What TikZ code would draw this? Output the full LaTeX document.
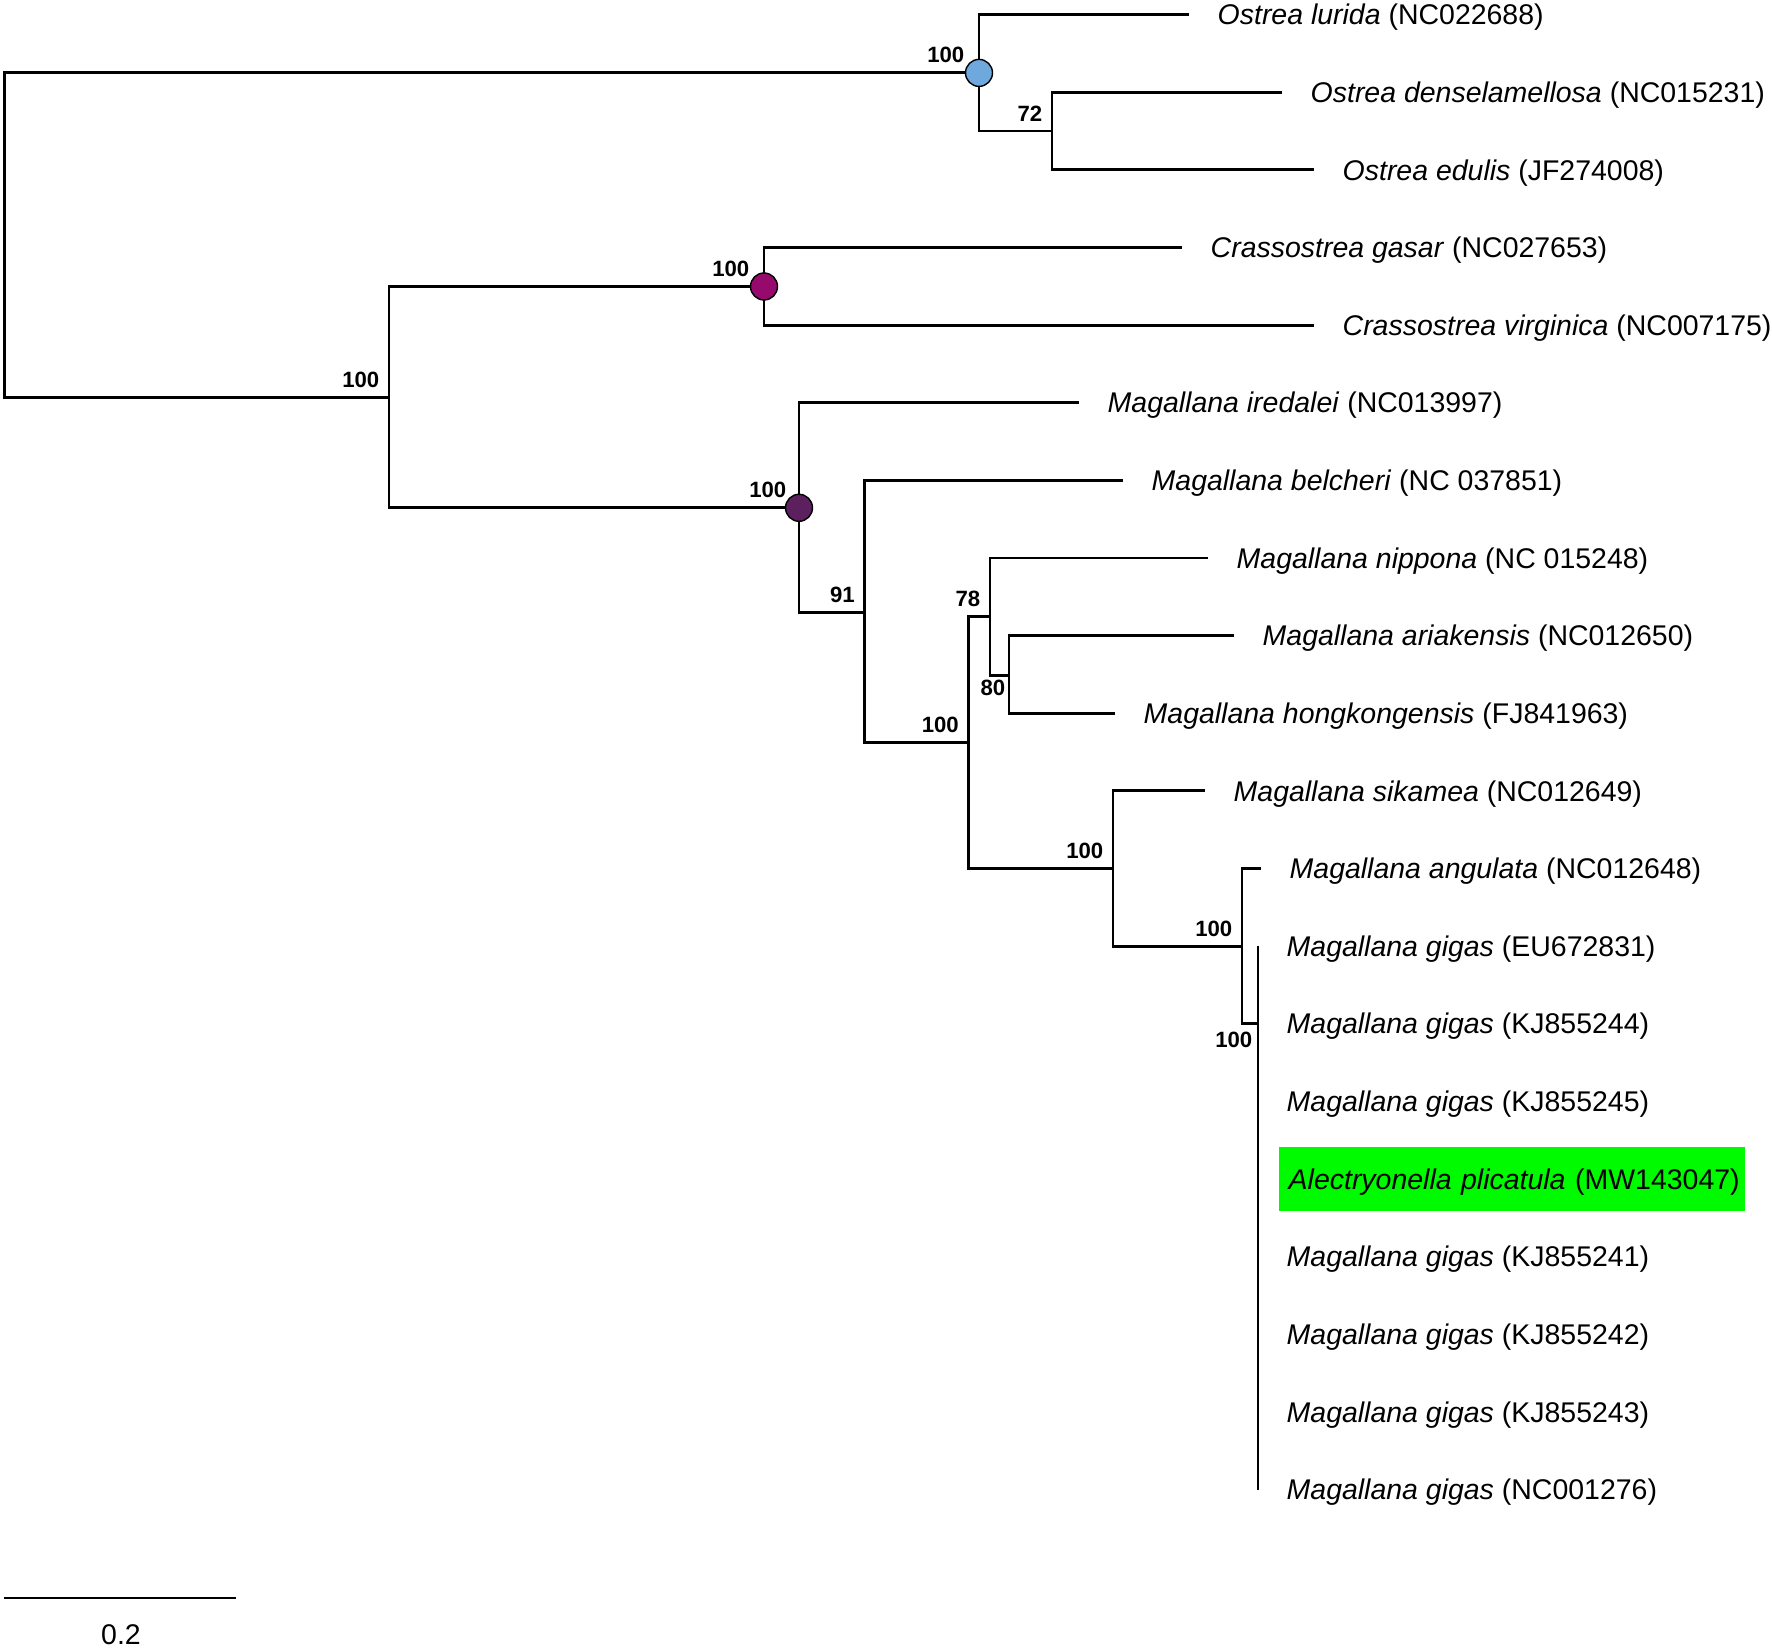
\documentclass[tikz,border=0pt]{standalone}
\usepackage{fontspec}
\setmainfont{Liberation Sans}
\definecolor{ostreablue}{RGB}{111,168,220}
\definecolor{crassmagenta}{RGB}{150,10,110}
\definecolor{magpurple}{RGB}{92,32,94}
\definecolor{hlgreen}{RGB}{0,250,0}
\begin{document}
\begin{tikzpicture}[
    branch/.style={line width=0.8pt},
    taxon/.style={anchor=west,inner xsep=0.28cm,inner ysep=0pt,text height=0.58em,text depth=0pt,font=\fontsize{8.1}{9}\selectfont},
    hilite/.style={taxon,fill=hlgreen,inner xsep=0.1cm,inner ysep=0.62em,xshift=0.2cm,text width=4.46cm,align=left},
    boot/.style={anchor=south east,inner sep=0pt,xshift=-0.09cm,yshift=0.09cm,font=\fontsize{6.3}{7}\selectfont\bfseries},
    bootbelow/.style={boot,anchor=north east,yshift=-0.13cm},
    dot/.style={circle,draw,line width=0.4pt,minimum size=0.27cm,inner sep=0pt}]
    \useasboundingbox (0,0) rectangle (17.72,-16.49);

    \coordinate (root) at (0.045,-2.350);
    \coordinate (ostr) at (9.79,-0.729);
    \coordinate (o72) at (10.52,-1.311);
    \coordinate (n100) at (3.89,-3.972);
    \coordinate (crass) at (7.64,-2.865);
    \coordinate (mag) at (7.99,-5.078);
    \coordinate (m91) at (8.645,-6.121);
    \coordinate (m100a) at (9.685,-7.428);
    \coordinate (m78) at (9.90,-6.168);
    \coordinate (m80) at (10.09,-6.752);
    \coordinate (m100b) at (11.13,-8.688);
    \coordinate (m100c) at (12.42,-9.465);
    \coordinate (gig) at (12.58,-10.238);

    \node[taxon] (lurida) at (11.89,-0.147) {\textit{Ostrea lurida} (NC022688)};
    \node[taxon] (dense) at (12.82,-0.923) {\textit{Ostrea denselamellosa} (NC015231)};
    \node[taxon] (edulis) at (13.14,-1.699) {\textit{Ostrea edulis} (JF274008)};
    \node[taxon] (gasar) at (11.82,-2.476) {\textit{Crassostrea gasar} (NC027653)};
    \node[taxon] (virg) at (13.14,-3.252) {\textit{Crassostrea virginica} (NC007175)};
    \node[taxon] (iredalei) at (10.79,-4.028) {\textit{Magallana iredalei} (NC013997)};
    \node[taxon] (belcheri) at (11.23,-4.804) {\textit{Magallana belcheri} (NC 037851)};
    \node[taxon] (nippona) at (12.08,-5.580) {\textit{Magallana nippona} (NC 015248)};
    \node[taxon] (ariak) at (12.34,-6.357) {\textit{Magallana ariakensis} (NC012650)};
    \node[taxon] (hongk) at (11.15,-7.133) {\textit{Magallana hongkongensis} (FJ841963)};
    \node[taxon] (sikamea) at (12.05,-7.909) {\textit{Magallana sikamea} (NC012649)};
    \node[taxon] (angulata) at (12.61,-8.685) {\textit{Magallana angulata} (NC012648)};
    \node[taxon] (gigasA) at (12.58,-9.461) {\textit{Magallana gigas} (EU672831)};
    \node[taxon] (gigasB) at (12.58,-10.238) {\textit{Magallana gigas} (KJ855244)};
    \node[taxon] (gigasC) at (12.58,-11.014) {\textit{Magallana gigas} (KJ855245)};
    \node[hilite] (alec) at (12.58,-11.790) {\mbox{\textit{Alectryonella plicatula} (MW143047)}};
    \node[taxon] (gigasD) at (12.58,-12.566) {\textit{Magallana gigas} (KJ855241)};
    \node[taxon] (gigasE) at (12.58,-13.342) {\textit{Magallana gigas} (KJ855242)};
    \node[taxon] (gigasF) at (12.58,-14.119) {\textit{Magallana gigas} (KJ855243)};
    \node[taxon] (gigasG) at (12.58,-14.895) {\textit{Magallana gigas} (NC001276)};

    \draw[branch] (root) |- (ostr);
    \draw[branch] (root) |- (n100);
    \draw[branch] (ostr) |- (lurida.west);
    \draw[branch] (ostr) |- (o72);
    \draw[branch] (o72) |- (dense.west);
    \draw[branch] (o72) |- (edulis.west);
    \draw[branch] (n100) |- (crass);
    \draw[branch] (n100) |- (mag);
    \draw[branch] (crass) |- (gasar.west);
    \draw[branch] (crass) |- (virg.west);
    \draw[branch] (mag) |- (iredalei.west);
    \draw[branch] (mag) |- (m91);
    \draw[branch] (m91) |- (belcheri.west);
    \draw[branch] (m91) |- (m100a);
    \draw[branch] (m100a) |- (m78);
    \draw[branch] (m100a) |- (m100b);
    \draw[branch] (m78) |- (nippona.west);
    \draw[branch] (m78) |- (m80);
    \draw[branch] (m80) |- (ariak.west);
    \draw[branch] (m80) |- (hongk.west);
    \draw[branch] (m100b) |- (sikamea.west);
    \draw[branch] (m100b) |- (m100c);
    \draw[branch] (m100c) |- (angulata.west);
    \draw[branch] (m100c) |- (gig);
    \draw[branch] (gig) |- (gigasA.west);
    \draw[branch] (gig) |- (gigasC.west);
    \draw[branch] (gig) -- (gig |- alec);
    \draw[branch] (gig) |- (gigasD.west);
    \draw[branch] (gig) |- (gigasE.west);
    \draw[branch] (gig) |- (gigasF.west);
    \draw[branch] (gig) |- (gigasG.west);

    \node[dot,fill=ostreablue] (ostrdot) at (ostr) {};
    \node[dot,fill=crassmagenta] (crassdot) at (crass) {};
    \node[dot,fill=magpurple] (magdot) at (mag) {};

    \node[boot,xshift=-0.05cm] (bsostr) at (ostr) {100};
    \node[boot] (bso72) at (o72) {72};
    \node[boot] (bsn100) at (n100) {100};
    \node[boot,xshift=-0.05cm] (bscrass) at (crass) {100};
    \node[boot,xshift=-0.03cm] (bsmag) at (mag) {100};
    \node[boot] (bsm91) at (m91) {91};
    \node[boot] (bsm100a) at (m100a) {100};
    \node[boot] (bsm78) at (m78) {78};
    \node[bootbelow,xshift=0.06cm] (bsm80) at (m80) {80};
    \node[boot] (bsm100b) at (m100b) {100};
    \node[boot] (bsm100c) at (m100c) {100};
    \node[bootbelow,xshift=0.04cm,yshift=-0.04cm] (bsgig) at (gig) {100};

    \coordinate (bar0) at (0.045,-15.98);
    \coordinate (bar1) at (2.36,-15.98);
    \draw[branch] (bar0) -- (bar1);
    \node[font=\fontsize{8.1}{9}\selectfont,inner sep=0pt] (barlab) at (1.21,-16.35) {0.2};
\end{tikzpicture}
\end{document}
